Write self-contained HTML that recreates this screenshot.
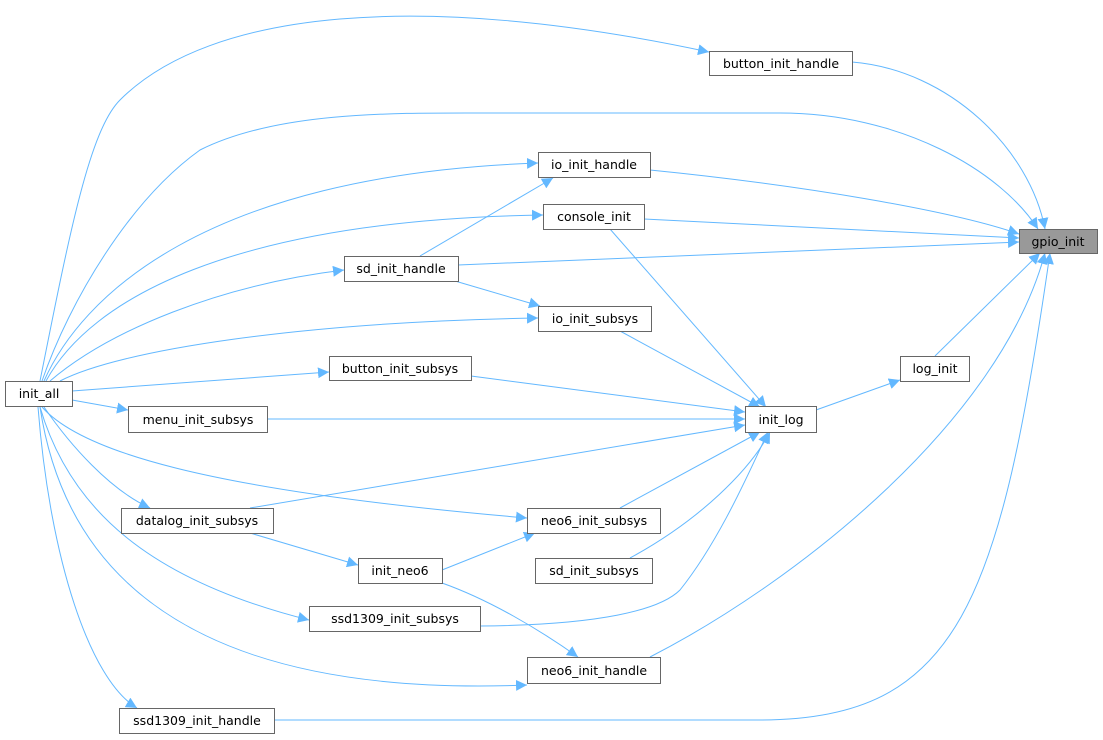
<!DOCTYPE html>
<html><head><meta charset="utf-8"><style>
html,body{margin:0;padding:0;background:#fff;}
svg{display:block;}
text{font-family:"DejaVu Sans","Liberation Sans",sans-serif;font-size:12.5px;fill:#000;text-anchor:middle;}
.e{fill:none;stroke:#63b8ff;stroke-width:1;}
.n{fill:#fff;stroke:#666;stroke-width:1;}
</style></head><body>
<svg width="1103" height="740" viewBox="0 0 1103 740" xmlns="http://www.w3.org/2000/svg">
<defs><marker id="a" viewBox="0 0 10 10" refX="10" refY="5" markerWidth="11" markerHeight="11" markerUnits="userSpaceOnUse" orient="auto"><path d="M0,0 L10,5 L0,10 z" fill="#63b8ff"/></marker></defs>
<g marker-end="url(#a)">
<path class="e" d="M40,381 C70,230 90,130 120,100 C210,10 420,-10 709,52"/>
<path class="e" d="M852,62 C950,70 1030,150 1045,229"/>
<path class="e" d="M42,381 C70,300 130,200 200,150 C280,110 400,113 500,113 L780,113 C900,113 1000,170 1038,229"/>
<path class="e" d="M44,381 C80,300 200,175 538,163"/>
<path class="e" d="M650,170 C800,185 950,210 1019,234"/>
<path class="e" d="M420,256 L553,178"/>
<path class="e" d="M644,219 L1019,238"/>
<path class="e" d="M46,381 C90,300 230,220 543,215"/>
<path class="e" d="M458,265 L1019,242"/>
<path class="e" d="M50,381 C110,330 220,285 344,270"/>
<path class="e" d="M455,281 L540,306"/>
<path class="e" d="M60,381 C120,350 300,322 538,318"/>
<path class="e" d="M620,331 L760,407"/>
<path class="e" d="M610,229 L766,407"/>
<path class="e" d="M935,356 L1040,253"/>
<path class="e" d="M816,410 L900,380"/>
<path class="e" d="M72,391 L329,372"/>
<path class="e" d="M471,376 L745,412"/>
<path class="e" d="M72,400 L128,410"/>
<path class="e" d="M267,419 L745,419"/>
<path class="e" d="M250,508 L745,425"/>
<path class="e" d="M44,407 C70,445 110,490 150,508"/>
<path class="e" d="M620,508 L760,432"/>
<path class="e" d="M42,407 C80,450 200,490 527,518"/>
<path class="e" d="M630,558 C700,520 750,470 770,432"/>
<path class="e" d="M442,570 L535,533"/>
<path class="e" d="M250,533 L358,565"/>
<path class="e" d="M442,583 C490,600 540,630 578,657"/>
<path class="e" d="M480,626 C600,625 660,610 680,590 C720,540 750,470 768,432"/>
<path class="e" d="M40,407 C70,510 150,580 309,620"/>
<path class="e" d="M650,657 C800,580 1000,420 1045,253"/>
<path class="e" d="M40,407 C60,540 150,700 527,685"/>
<path class="e" d="M38,407 C50,560 90,680 137,708"/>
<path class="e" d="M274,720 L760,720 C960,720 1000,600 1050,253"/>
</g>
<rect x="1019.5" y="229.5" width="78" height="24" fill="#999" stroke="#666"/><text x="1058" y="246">gpio_init</text>
<rect class="n" x="709.5" y="51.5" width="143" height="24"/><text x="781" y="68">button_init_handle</text>
<rect class="n" x="538.5" y="152.5" width="112" height="25"/><text x="594" y="169">io_init_handle</text>
<rect class="n" x="543.5" y="204.5" width="101" height="25"/><text x="594" y="221">console_init</text>
<rect class="n" x="344.5" y="256.5" width="114" height="25"/><text x="401" y="273">sd_init_handle</text>
<rect class="n" x="538.5" y="306.5" width="113" height="25"/><text x="595" y="323">io_init_subsys</text>
<rect class="n" x="900.5" y="356.5" width="69" height="25"/><text x="935" y="373">log_init</text>
<rect class="n" x="329.5" y="356.5" width="142" height="24"/><text x="400" y="373">button_init_subsys</text>
<rect class="n" x="5.5" y="381.5" width="67" height="25"/><text x="39" y="398">init_all</text>
<rect class="n" x="128.5" y="406.5" width="139" height="26"/><text x="198" y="424">menu_init_subsys</text>
<rect class="n" x="745.5" y="406.5" width="71" height="26"/><text x="781" y="424">init_log</text>
<rect class="n" x="121.5" y="508.5" width="152" height="25"/><text x="197" y="525">datalog_init_subsys</text>
<rect class="n" x="527.5" y="508.5" width="133" height="25"/><text x="594" y="525">neo6_init_subsys</text>
<rect class="n" x="358.5" y="558.5" width="84" height="25"/><text x="400" y="575">init_neo6</text>
<rect class="n" x="535.5" y="558.5" width="117" height="25"/><text x="594" y="575">sd_init_subsys</text>
<rect class="n" x="309.5" y="606.5" width="171" height="25"/><text x="395" y="623">ssd1309_init_subsys</text>
<rect class="n" x="527.5" y="657.5" width="133" height="26"/><text x="594" y="675">neo6_init_handle</text>
<rect class="n" x="119.5" y="708.5" width="155" height="25"/><text x="197" y="725">ssd1309_init_handle</text>
</svg>
</body></html>
